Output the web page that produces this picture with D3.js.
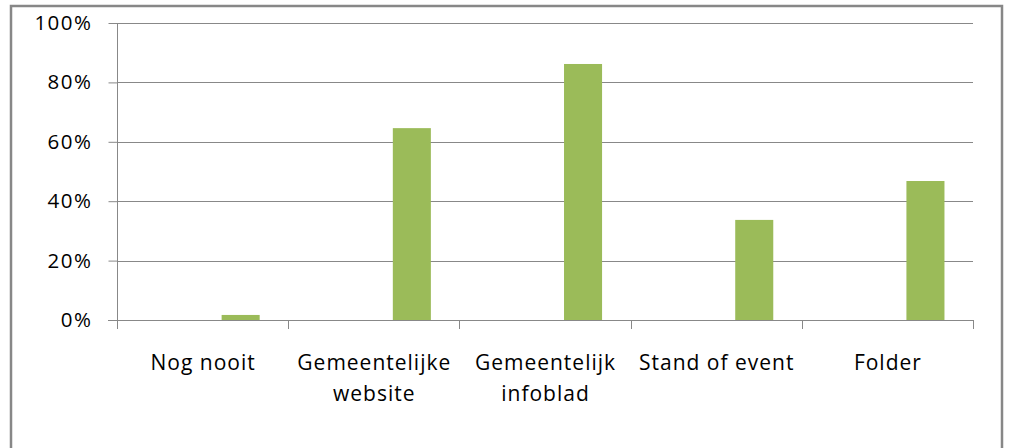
<!DOCTYPE html>
<html>
<head>
<meta charset="utf-8">
<script src="https://cdn.jsdelivr.net/npm/d3@7"></script>
<style>
  body { margin: 0; background: #fff; }
  svg text { font-family: "Open Sans", "Noto Sans", sans-serif; fill: #000; }
</style>
</head>
<body>
<svg id="chart" width="1010" height="448"></svg>
<script>
// categories (two-line labels split on "|")
const categories = ["Nog nooit", "Gemeentelijke|website", "Gemeentelijk|infoblad", "Stand of event", "Folder"];
// three series in the original workbook, only the third one has values
const seriesNames = ["s1", "s2", "s3"];
const seriesColors = ["#4F81BD", "#C0504D", "#9BBB59"];
const s1Values = [0, 0, 0, 0, 0];
const s2Values = [0, 0, 0, 0, 0];
const s3Values = [0.017, 0.646, 0.862, 0.337, 0.468];
const yTicks = [0, 0.2, 0.4, 0.6, 0.8, 1.0];

const svg = d3.select("#chart");
const margin = { left: 117, right: 1010 - 973, top: 23, bottom: 448 - 320 };
const width = 1010, height = 448;

// outer chart border
svg.append("rect")
    .attr("x", 11).attr("y", 6)
    .attr("width", 1002 - 11).attr("height", 470)
    .attr("fill", "none")
    .attr("stroke", "#878787")
    .attr("stroke-width", 2.5);

const x = d3.scaleBand()
    .domain(categories)
    .range([margin.left, width - margin.right]);

// inner band: 3 bars plus a 150% gap split over both sides
const xInner = d3.scaleBand()
    .domain(seriesNames)
    .range([0, x.bandwidth()])
    .paddingInner(0)
    .paddingOuter(0.75);

const y = d3.scaleLinear()
    .domain([0, 1])
    .range([height - margin.bottom, margin.top]);

// gridlines
svg.append("g")
    .selectAll("line")
    .data(yTicks.slice(1))
    .join("line")
    .attr("x1", margin.left).attr("x2", width - margin.right)
    .attr("y1", d => Math.round(y(d)) + 0.5)
    .attr("y2", d => Math.round(y(d)) + 0.5)
    .attr("stroke", "#888")
    .attr("stroke-width", 1);

// bars
const seriesData = [s1Values, s2Values, s3Values];
seriesData.forEach((vals, si) => {
    svg.append("g")
        .selectAll("rect")
        .data(vals)
        .join("rect")
        .attr("x", (d, i) => x(categories[i]) + xInner(seriesNames[si]))
        .attr("width", xInner.bandwidth())
        .attr("y", d => y(d))
        .attr("height", d => y(0) - y(d))
        .attr("fill", seriesColors[si]);
});

// y axis
const yAxis = svg.append("g")
    .attr("transform", `translate(${margin.left + 0.5},0)`)
    .call(d3.axisLeft(y).tickValues(yTicks).tickFormat(d3.format(".0%")).tickSize(9).tickPadding(16));
yAxis.select(".domain").attr("stroke", "#888").attr("d", `M0,${y(1)}V${y(0)}`);
yAxis.selectAll(".tick line").attr("stroke", "#888");
yAxis.selectAll(".tick text")
    .attr("font-size", 20.5)
    .attr("letter-spacing", 1.5)
    .attr("font-family", "Open Sans");

// x axis
const xAxis = svg.append("g")
    .attr("transform", `translate(0,${Math.round(y(0)) + 0.5})`)
    .call(d3.axisBottom(x).tickSize(0).tickFormat(""));
xAxis.select(".domain").attr("stroke", "#888").attr("d", `M${margin.left - 9},0H${width - margin.right}`);
xAxis.selectAll(".tick").remove();

// category separators
const seps = categories.map(c => x(c)).concat([x.range()[1]]);
svg.append("g")
    .selectAll("line")
    .data(seps)
    .join("line")
    .attr("x1", d => Math.round(d) + 0.5).attr("x2", d => Math.round(d) + 0.5)
    .attr("y1", y(0)).attr("y2", y(0) + 9)
    .attr("stroke", "#888");

// category labels
const labels = svg.append("g")
    .selectAll("text")
    .data(categories)
    .join("text")
    .attr("text-anchor", "middle")
    .attr("font-size", 21)
    .attr("letter-spacing", 1)
    .attr("transform", d => `translate(${x(d) + x.bandwidth() / 2 + 0.5},370)`);
labels.selectAll("tspan")
    .data(d => d.split("|"))
    .join("tspan")
    .attr("x", 0)
    .attr("y", (d, i) => i * 31)
    .text(d => d);
</script>
</body>
</html>
